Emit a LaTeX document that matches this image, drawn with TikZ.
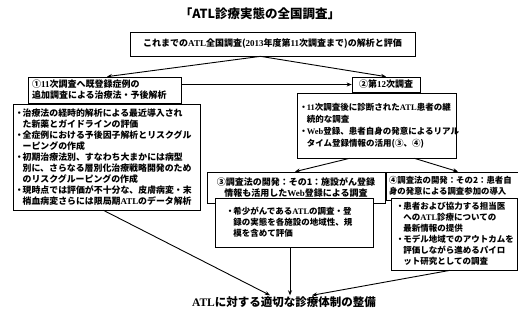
\documentclass[tikz,border=0pt]{standalone}
\usepackage{fontspec}
\setmainfont{Noto Sans CJK JP}
\newfontfamily\lat{Liberation Serif}
\usetikzlibrary{arrows.meta}
\newcommand{\bl}{\makebox[0.75em][c]{・}}
\newcommand{\ind}{\hspace*{0.75em}}
\newcommand{\la}[1]{{\lat\bfseries #1}}
\begin{document}
\begin{tikzpicture}[x=1pt,y=-1pt,
  box/.style={draw=black,line width=0.7pt,inner sep=2pt,fill=white},
  hdr/.style={box,font=\fontsize{9}{11}\selectfont\bfseries},
  det/.style={box,font=\fontsize{8.5}{11}\selectfont\bfseries,align=left},
  arr/.style={line width=0.9pt,-{Stealth[length=5pt,width=4pt]}}]
\useasboundingbox (0,0) rectangle (518,320);
\clip (0,0) rectangle (518,320);

\node[font=\fontsize{12.5}{14}\selectfont\bfseries] (title) at (260,14) {「ATL診療実態の全国調査」};

\node[hdr,minimum width=285pt,minimum height=24pt] (top) at (272.5,44)
  {これまでの\la{ATL}全国調査(\la{2013}年度第\la{11}次調査まで)の解析と評価};

\node[hdr,minimum width=153pt,minimum height=26pt,text width=145pt,align=left] (h1) at (104.5,90)
  {①\la{11}次調査へ既登録症例の\\追加調査による治療法・予後解析};

\node[hdr,minimum width=68pt,minimum height=15pt] (h2) at (386,84.5) {②第\la{12}次調査};

\node[det,minimum width=187pt,minimum height=106pt,text width=181pt,
      font=\fontsize{8.9}{11}\selectfont\bfseries] (d1) at (106.5,157)
  {\bl 治療法の経時的解析による最近導入され\\
   \ind た新薬とガイドラインの評価\\
   \bl 全症例における予後因子解析とリスクグル\\
   \ind ーピングの作成\\
   \bl 初期治療法別、すなわち大まかには病型\\
   \ind 別に、さらなる層別化治療戦略開発のため\\
   \ind のリスクグルーピングの作成\\
   \bl 現時点では評価が不十分な、皮膚病変・末\\
   \ind 梢血病変さらには限局期\la{ATL}のデータ解析};

\node[det,minimum width=159pt,minimum height=65pt,text width=152pt,
      font=\fontsize{8.5}{12}\selectfont\bfseries] (d2) at (376.5,125.5)
  {\bl \la{11}次調査後に診断された\la{ATL}患者の継\\
   \ind 続的な調査\\
   \bl \la{Web}登録、患者自身の発意によるリアル\\
   \ind タイム登録情報の活用(③、④)};

\node[hdr,minimum width=178pt,minimum height=31pt,align=center] (h3) at (296,187.5)
  {③調査法の開発：その1：施設がん登録\\情報も活用した\la{Web}登録による調査};

\node[hdr,minimum width=150pt,minimum height=28pt,text width=144pt,align=left,
      font=\fontsize{8.4}{11}\selectfont\bfseries] (h4) at (461,186)
  {④調査法の開発：その2：患者自\\身の発意による調査参加の導入};

\node[det,minimum width=158pt,minimum height=49pt,text width=134pt] (d3) at (294,222.5)
  {\bl 希少がんである\la{ATL}の調査・登\\
   \ind 録の実態を各施設の地域性、規\\
   \ind 模を含めて評価};

\node[det,minimum width=126pt,minimum height=72pt,text width=114pt] (d4) at (454,234)
  {\bl 患者および協力する担当医\\
   \ind への\la{ATL}診療についての\\
   \ind 最新情報の提供\\
   \bl モデル地域でのアウトカムを\\
   \ind 評価しながら進めるパイロ\\
   \ind ット研究としての調査};

\node[font=\fontsize{11.5}{13}\selectfont\bfseries,inner sep=1pt] (goal) at (284,302)
  {\la{ATL}に対する適切な診療体制の整備};

\draw[arr] ([xshift=-12pt]top.south) -- ([xshift=2.5pt]h1.north);
\draw[arr] ([xshift=-12pt]top.south) -- (h2.north);
\draw[arr] (h1.east |- h2.west) -- (h2.west);
\draw[arr] ([xshift=-27pt]d2.south) -- ([xshift=-1pt]h3.north);
\draw[arr] ([xshift=38pt]d2.south) -- ([xshift=-3pt]h4.north);
\draw[arr] ([xshift=-3pt]d1.south) -- ([xshift=-14pt]goal.north);
\draw[arr] ([xshift=-4pt]d3.south) -- ([xshift=6pt]goal.north);
\draw[arr] ([xshift=-4pt]d4.south) -- ([xshift=28pt]goal.north);
\end{tikzpicture}
\end{document}
